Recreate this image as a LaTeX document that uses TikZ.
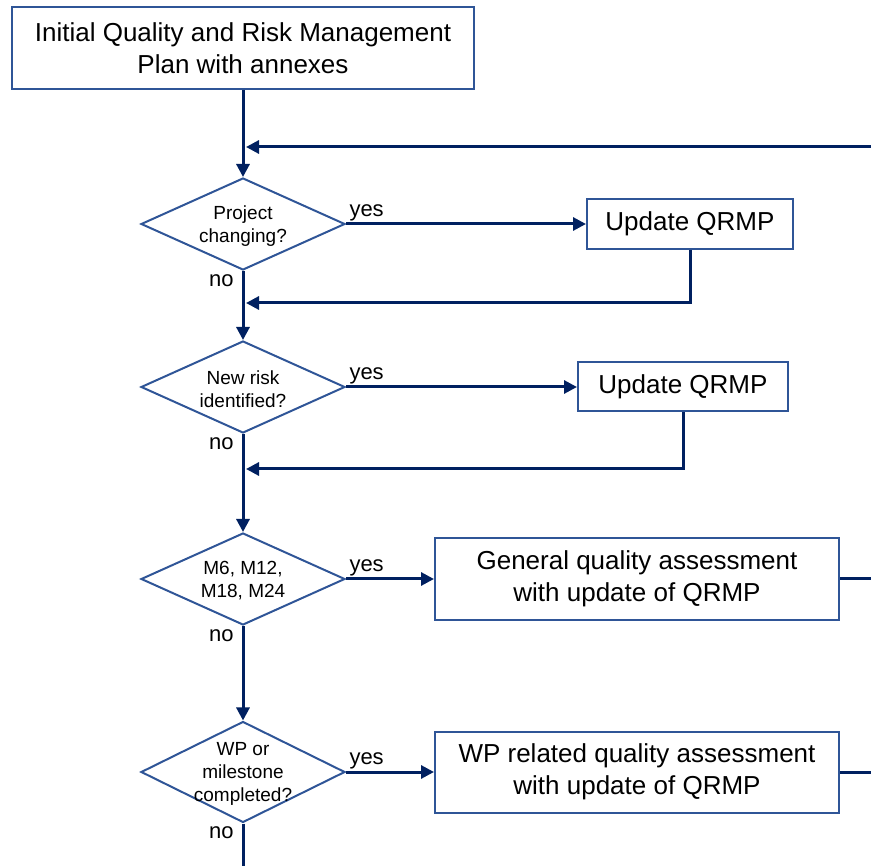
\documentclass[tikz,border=0pt]{standalone}
\usepackage{fontspec}
\setmainfont{Liberation Sans}
\usetikzlibrary{arrows.meta, positioning, shapes.geometric}
\definecolor{navy}{HTML}{002060}
\definecolor{frame}{HTML}{2F5597}

\begin{document}
\begin{tikzpicture}[x=1pt, y=1pt, >={Triangle[length=13pt,width=13pt]}]

  \tikzstyle{block} = [draw=frame, line width=2pt, align=center, inner sep=0pt,
                       font=\fontsize{26}{32}\selectfont]
  \tikzstyle{decision} = [diamond, draw=frame, line width=2pt, inner sep=0pt,
                          minimum width=204pt, minimum height=92pt]
  \tikzstyle{dtext} = [align=center, yshift=-2pt, font=\fontsize{19}{23}\selectfont]
  \tikzstyle{flow} = [->, navy, line width=3pt]
  \tikzstyle{yes} = [pos=0, anchor=south west, inner sep=1pt, xshift=1pt, text=black,
                     font=\fontsize{22}{26}\selectfont]
  \tikzstyle{no} = [pos=0, anchor=north east, inner sep=2pt, xshift=-6pt, text=black,
                    font=\fontsize{22}{26}\selectfont]

  \useasboundingbox (0,0) rectangle (871,-866);

  \node[block, minimum width=462pt, minimum height=82pt] (A) at (243,-48)
        {Initial Quality and Risk Management\\Plan with annexes};
  \node[decision, node distance=176pt, below of=A,
        label={[dtext]center:{Project\\changing?}}] (D1) {};
  \node[decision, node distance=163pt, below of=D1,
        label={[dtext]center:{New risk\\identified?}}] (D2) {};
  \node[decision, node distance=192pt, below of=D2,
        label={[dtext]center:{M6, M12,\\M18, M24}}] (D3) {};
  \node[decision, node distance=193pt, below of=D3, minimum height=101pt,
        label={[dtext]center:{WP or\\milestone\\completed?}}] (D4) {};

  \node[block, node distance=447pt, right of=D1, minimum width=206pt, minimum height=50pt] (U1) {Update QRMP};
  \node[block, node distance=440pt, right of=D2, minimum width=210pt, minimum height=49pt] (U2) {Update QRMP};
  \node[block, node distance=394pt, right of=D3, minimum width=404pt, minimum height=81pt] (Q3)
        {General quality assessment\\with update of QRMP};
  \node[block, node distance=394pt, right of=D4, minimum width=404pt, minimum height=81pt] (Q4)
        {WP related quality assessment\\with update of QRMP};

  % loose ends at the page edge and the joins on the main line
  \coordinate (R0) at (871,-147);
  \coordinate (T0) at (246,-147);
  \coordinate (J1) at (246,-303);
  \coordinate (J2) at (246,-469);
  \coordinate (R3) at (871,-579);
  \coordinate (R4) at (871,-772);
  \coordinate (B0) at (243,-866);

  \path[flow] (A)  edge                    (D1)
              (D1) edge node[yes] {yes}    (U1)
              (D1) edge node[no] {no}      (D2)
              (D2) edge node[yes] {yes}    (U2)
              (D2) edge node[no] {no}      (D3)
              (D3) edge node[yes] {yes}    (Q3)
              (D3) edge node[no] {no}      (D4)
              (D4) edge node[yes] {yes}    (Q4)
              (D4) edge[-] node[no] {no}   (B0)
              (R0) edge                    (T0);

  \draw[flow] (U1) |- (J1);
  \draw[flow] (U2) |- (J2);
  \draw[flow, -] (Q3) -- (R3);
  \draw[flow, -] (Q4) -- (R4);
\end{tikzpicture}
\end{document}
